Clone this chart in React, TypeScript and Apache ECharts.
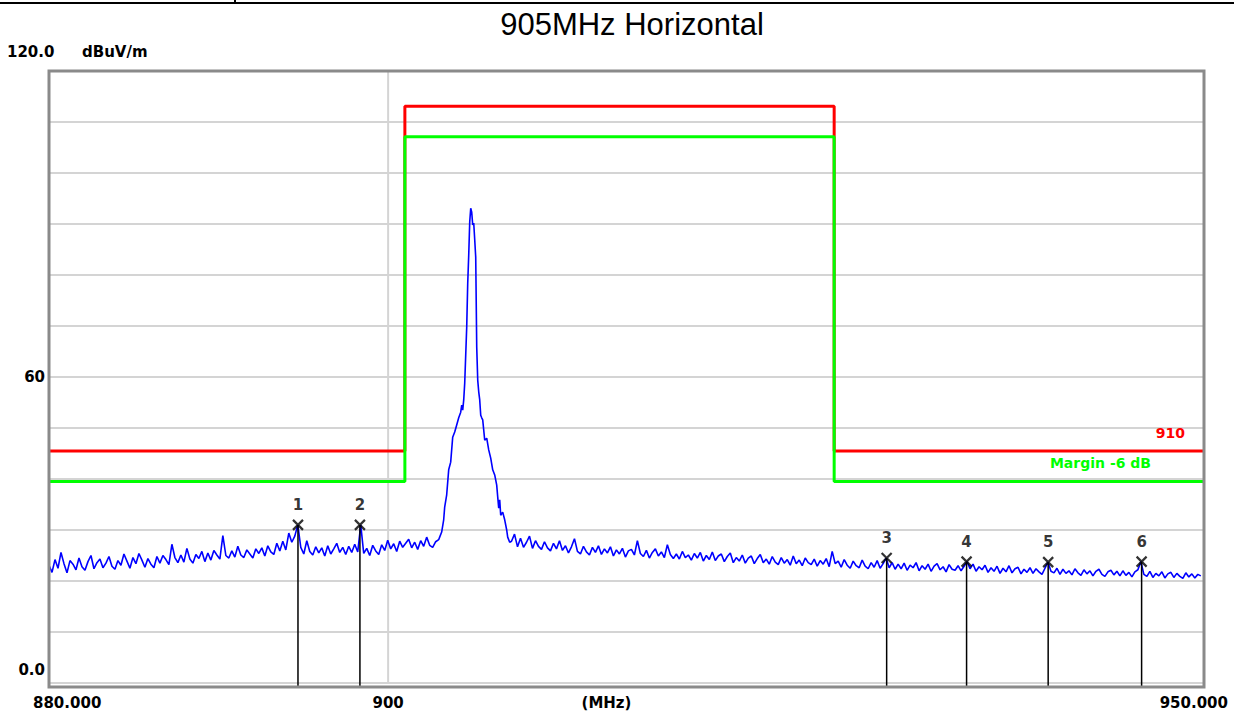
import React, { useEffect, useRef } from "react";
import * as echarts from "echarts";

// ---------- texts ----------
const TITLE = "905MHz Horizontal";
const Y_UNIT = "dBuV/m";
const X_UNIT = "(MHz)";
const LIMIT_NAME = "910";
const MARGIN_NAME = "Margin -6 dB";

// ---------- axes ----------
const X_MIN = 880;
const X_MAX = 950;
const Y_MIN = 0;
const Y_MAX = 120;
const Y_STEP = 10;
const xTickValues = [880, 900, 950];
const xTickTexts = ["880.000", "900", "950.000"];
const yTickValues = [120, 60, 0];
const yTickTexts = ["120.0", "60", "0.0"];
const xGridValues = [900];

// ---------- limit lines ----------
const limitFreqs = [880, 901, 901, 927, 927, 950];
const limitLevels = [45.5, 45.5, 113.1, 113.1, 45.5, 45.5];
const marginLevels = [39.5, 39.5, 107.1, 107.1, 39.5, 39.5];

// ---------- measured trace ----------
const lowSweepStart = 880;
const lowSweepStop = 903.02;
const lowNoise = [
  23.1, 21.7, 24.2, 22.5, 25.6, 23.4, 21.6, 24.0, 23.3, 22.2,
  24.5, 22.8, 22.1, 23.8, 25.0, 22.4, 23.6, 24.3, 22.6, 23.5,
  24.8, 22.9, 22.3, 24.0, 23.1, 25.3, 23.9, 22.5, 24.6, 23.4,
  25.4, 24.1, 22.7, 24.4, 23.3, 22.6, 24.8, 23.5, 25.0, 24.2,
  23.2, 27.2, 24.6, 23.6, 25.1, 23.7, 26.4, 24.3, 23.5, 25.2,
  24.4, 25.8, 23.8, 25.5, 24.1, 26.0, 25.1, 24.3, 28.9, 25.0,
  24.5, 25.9, 24.7, 26.8, 25.1, 24.6, 26.1, 25.3, 24.5, 26.3,
  25.4, 26.5, 24.9, 26.9, 25.7, 25.2, 27.4, 25.9, 27.8, 26.1,
  29.4, 27.6, 28.8, 31.0, 26.6, 25.3, 27.9, 25.8, 25.1, 26.7,
  25.5, 26.5, 24.9, 26.9, 25.3, 26.3, 27.4, 25.6, 26.6, 25.2,
  26.8, 25.6, 27.2, 25.7, 31.0, 25.4, 26.4, 25.0, 27.0, 25.9,
  25.2, 27.1, 26.0, 28.0, 26.3, 27.3, 25.8, 27.8, 26.6, 27.4,
  28.2, 26.5, 27.6, 26.2, 27.9, 26.8, 28.6, 27.0, 26.6, 27.7, 28.1,
];

const peakFreqs = [
  903.08, 903.2, 903.32, 903.38, 903.5, 903.62, 903.74, 903.86, 903.98, 904.1,
  904.22, 904.34, 904.4, 904.46, 904.52, 904.58, 904.64, 904.7, 904.76, 904.82,
  904.88, 904.94, 905.0, 905.06, 905.12, 905.18, 905.24, 905.3, 905.36, 905.42,
  905.48, 905.54, 905.6, 905.66, 905.78, 905.9, 906.02, 906.14, 906.26, 906.38,
  906.5, 906.56, 906.62, 906.68, 906.74, 906.86, 906.98, 907.1, 907.16, 907.28,
];
const peakLevels = [
  28.6, 29.6, 32.0, 34.5, 36.9, 41.8, 43.3, 48.2, 49.2, 50.6,
  52.0, 53.1, 54.5, 53.5, 55.5, 58.8, 64.3, 69.8, 78.4, 83.9,
  90.4, 93.1, 92.3, 89.8, 90.2, 86.9, 83.5, 65.9, 59.4, 57.1,
  55.5, 52.5, 52.0, 51.6, 47.6, 48.0, 45.7, 44.1, 41.8, 40.8,
  38.8, 36.5, 34.3, 35.9, 32.9, 33.5, 32.0, 30.0, 28.6, 27.6,
];

const highSweepStart = 907.39;
const highSweepStop = 949.8;
const highNoise = [
  27.8, 29.2, 26.7, 28.4, 26.6, 27.6, 28.8, 26.4, 27.9, 26.8,
  26.2, 27.7, 26.5, 25.9, 27.4, 26.3, 27.9, 26.0, 26.9, 25.5,
  26.7, 28.3, 25.8, 25.3, 26.8, 25.7, 25.1, 26.6, 25.6, 26.9,
  25.2, 26.3, 25.5, 26.7, 24.9, 26.1, 25.3, 26.4, 24.7, 25.9,
  26.2, 25.1, 27.9, 25.4, 24.8, 26.0, 24.5, 25.6, 26.3, 24.9,
  25.7, 24.6, 27.1, 25.2, 24.4, 25.3, 24.3, 25.8, 24.6, 25.1,
  24.1, 25.4, 24.5, 25.6, 23.9, 25.0, 24.2, 25.7, 24.0, 24.9,
  25.3, 23.8, 24.8, 25.5, 23.6, 24.6, 23.9, 25.1, 23.5, 24.5,
  24.9, 23.4, 24.4, 25.2, 23.6, 24.3, 23.3, 24.8, 23.7, 23.2,
  24.6, 23.5, 24.2, 23.1, 24.9, 23.4, 24.1, 23.0, 24.5, 23.6,
  23.2, 24.3, 22.9, 24.0, 23.3, 24.4, 22.8, 25.8, 23.4, 23.9,
  22.7, 24.2, 23.1, 22.5, 23.9, 23.0, 22.6, 24.1, 22.9, 22.4,
  23.6, 22.7, 24.0, 22.5, 23.4, 24.5, 22.6, 23.6, 22.3, 23.3,
  22.4, 23.5, 22.1, 23.1, 22.6, 23.6, 22.0, 23.0, 22.3, 23.3,
  21.9, 22.9, 23.4, 22.2, 22.8, 21.8, 23.2, 22.3, 22.1, 23.0,
  22.0, 22.9, 23.8, 22.4, 23.3, 21.9, 22.8, 22.2, 23.1, 21.7,
  22.6, 21.9, 22.9, 21.5, 22.5, 21.8, 23.0, 21.6, 22.4, 22.7,
  21.4, 22.3, 21.7, 22.6, 21.5, 22.4, 21.8, 21.3, 22.5, 23.7,
  21.9, 21.6, 22.5, 21.3, 22.3, 21.5, 22.0, 21.2, 22.4, 21.6,
  21.1, 22.2, 21.4, 22.0, 21.0, 21.9, 22.3, 21.3, 20.9, 21.8,
  22.1, 21.2, 21.9, 21.0, 22.0, 21.1, 21.7, 20.8, 21.8, 22.2,
  23.8, 21.3, 20.9, 21.9, 20.7, 21.5, 21.0, 21.8, 20.6, 21.4,
  21.7, 20.7, 21.5, 20.9, 20.5, 21.6, 20.8, 21.4, 20.6, 21.3, 21.0,
];

// ---------- markers ----------
const markerIds = ["1", "2", "3", "4", "5", "6"];
const markerFreqs = [894.64, 898.32, 930.23, 935.17, 940.24, 946.08];
const markerLevels = [31.0, 31.0, 24.5, 23.8, 23.7, 23.8];

// frequency grid of an (evenly log-spaced) sweep segment
const sweepFreqs = (start: number, stop: number, n: number) =>
  Array.from({ length: n }, (_, i) => start * Math.pow(stop / start, i / (n - 1)));

const zip = (xs: number[], ys: number[]) => xs.map((x, i) => [x, ys[i]]);

const LABEL_FONT = '"DejaVu Sans", sans-serif';

export default function App() {
  const ref = useRef<HTMLDivElement>(null);

  useEffect(() => {
    if (!ref.current) return;
    const chart = echarts.init(ref.current, undefined, { renderer: "svg" });

    const trace = [
      ...zip(sweepFreqs(lowSweepStart, lowSweepStop, lowNoise.length), lowNoise),
      ...zip(peakFreqs, peakLevels),
      ...zip(sweepFreqs(highSweepStart, highSweepStop, highNoise.length), highNoise),
    ];

    const frameBottom = -0.8;

    const series: any[] = [
      ...xGridValues.map((f) => ({
        type: "line",
        data: [[f, Y_MIN], [f, Y_MAX]],
        symbol: "none",
        lineStyle: { color: "#d4d4d4", width: 2 },
        z: 1,
        silent: true,
      })),
      {
        type: "line",
        name: LIMIT_NAME,
        data: zip(limitFreqs, limitLevels),
        symbol: "none",
        lineStyle: { color: "#ff0000", width: 3 },
        z: 3,
      },
      {
        type: "line",
        name: MARGIN_NAME,
        data: zip(limitFreqs, marginLevels),
        symbol: "none",
        lineStyle: { color: "#00ff00", width: 3 },
        z: 3,
      },
      {
        type: "line",
        name: "trace",
        data: trace,
        symbol: "none",
        lineStyle: { color: "#0000ff", width: 1.6 },
        z: 4,
      },
      ...markerFreqs.map((f, i) => ({
        type: "line",
        data: [[f, markerLevels[i]], [f, frameBottom]],
        symbol: "none",
        clip: false,
        lineStyle: { color: "#000000", width: 1.5 },
        z: 5,
      })),
      {
        type: "scatter",
        data: zip(markerFreqs, markerLevels),
        symbol: "path://M0 0L10 10M10 0L0 10",
        symbolSize: 10,
        itemStyle: { color: "none", borderColor: "#000000", borderWidth: 2.2 },
        label: {
          show: true,
          position: "top",
          distance: 5,
          formatter: (p: any) => markerIds[p.dataIndex],
          color: "#000000",
          fontFamily: LABEL_FONT,
          fontWeight: "bold",
          fontSize: 15,
        },
        z: 6,
      },
    ];

    chart.setOption({
      animation: false,
      backgroundColor: "#ffffff",
      grid: { left: 49, right: 30, top: 71, bottom: 30, containLabel: false },
      xAxis: {
        type: "log",
        logBase: 10,
        min: X_MIN,
        max: X_MAX,
        axisLine: { show: false },
        axisTick: { show: false },
        axisLabel: { show: false },
        splitLine: { show: false },
      },
      yAxis: {
        type: "value",
        min: Y_MIN,
        max: Y_MAX,
        interval: Y_STEP,
        axisLine: { show: false },
        axisTick: { show: false },
        axisLabel: { show: false },
        splitLine: { show: true, lineStyle: { color: "#d4d4d4", width: 2 } },
      },
      series,
    });

    const px = (f: number, v: number) =>
      chart.convertToPixel({ gridIndex: 0 }, [f, v]) as number[];

    const [left, top] = px(X_MIN, Y_MAX);
    const [right, bottom] = px(X_MAX, frameBottom);
    const zeroY = px(X_MIN, Y_MIN)[1];

    const txt = (text: string, x: number, y: number, align: string, opts: any = {}) => ({
      type: "text",
      z: 20,
      style: {
        text,
        x,
        y,
        align,
        textAlign: align,
        verticalAlign: "middle",
        textVerticalAlign: "middle",
        fill: opts.fill || "#000000",
        font: opts.font || `bold 15px ${LABEL_FONT}`,
      },
    });

    const graphic: any[] = [
      // frame
      {
        type: "rect",
        z: 10,
        shape: { x: left, y: top, width: right - left, height: bottom - top },
        style: { fill: "none", stroke: "#8a8a8a", lineWidth: 3 },
      },
      // top border of the page table
      { type: "line", z: 10, shape: { x1: 0, y1: 3, x2: 1234, y2: 3 }, style: { stroke: "#000000", lineWidth: 2 } },
      { type: "line", z: 10, shape: { x1: 235, y1: 0, x2: 235, y2: 4 }, style: { stroke: "#000000", lineWidth: 2 } },
      // title
      txt(TITLE, 632, 24, "center", { font: '31px "Liberation Sans", Arial, sans-serif' }),
      // y labels
      txt(yTickTexts[0], 7, top - 19, "left"),
      txt(Y_UNIT, 82, top - 19, "left"),
      txt(yTickTexts[1], 45, px(X_MIN, yTickValues[1])[1], "right"),
      txt(yTickTexts[2], 45, zeroY - 13, "right"),
      // x labels
      txt(xTickTexts[0], px(xTickValues[0], 0)[0] - 16, bottom + 16, "left"),
      txt(xTickTexts[1], px(xTickValues[1], 0)[0], bottom + 16, "center"),
      txt(xTickTexts[2], px(xTickValues[2], 0)[0] + 24, bottom + 16, "right"),
      txt(X_UNIT, (left + right) / 2 - 20, bottom + 16, "center"),
      // limit labels
      txt(LIMIT_NAME, right - 19, px(X_MAX, limitLevels[5])[1] - 18, "right", {
        fill: "#ff0000",
        font: `bold 14px ${LABEL_FONT}`,
      }),
      txt(MARGIN_NAME, right - 53, px(X_MAX, marginLevels[5])[1] - 19, "right", {
        fill: "#00ff00",
        font: `bold 14px ${LABEL_FONT}`,
      }),
    ];

    chart.setOption({ graphic });

    return () => chart.dispose();
  }, []);

  return <div ref={ref} style={{ width: 1234, height: 713, position: "absolute", left: 0, top: 0 }} />;
}
